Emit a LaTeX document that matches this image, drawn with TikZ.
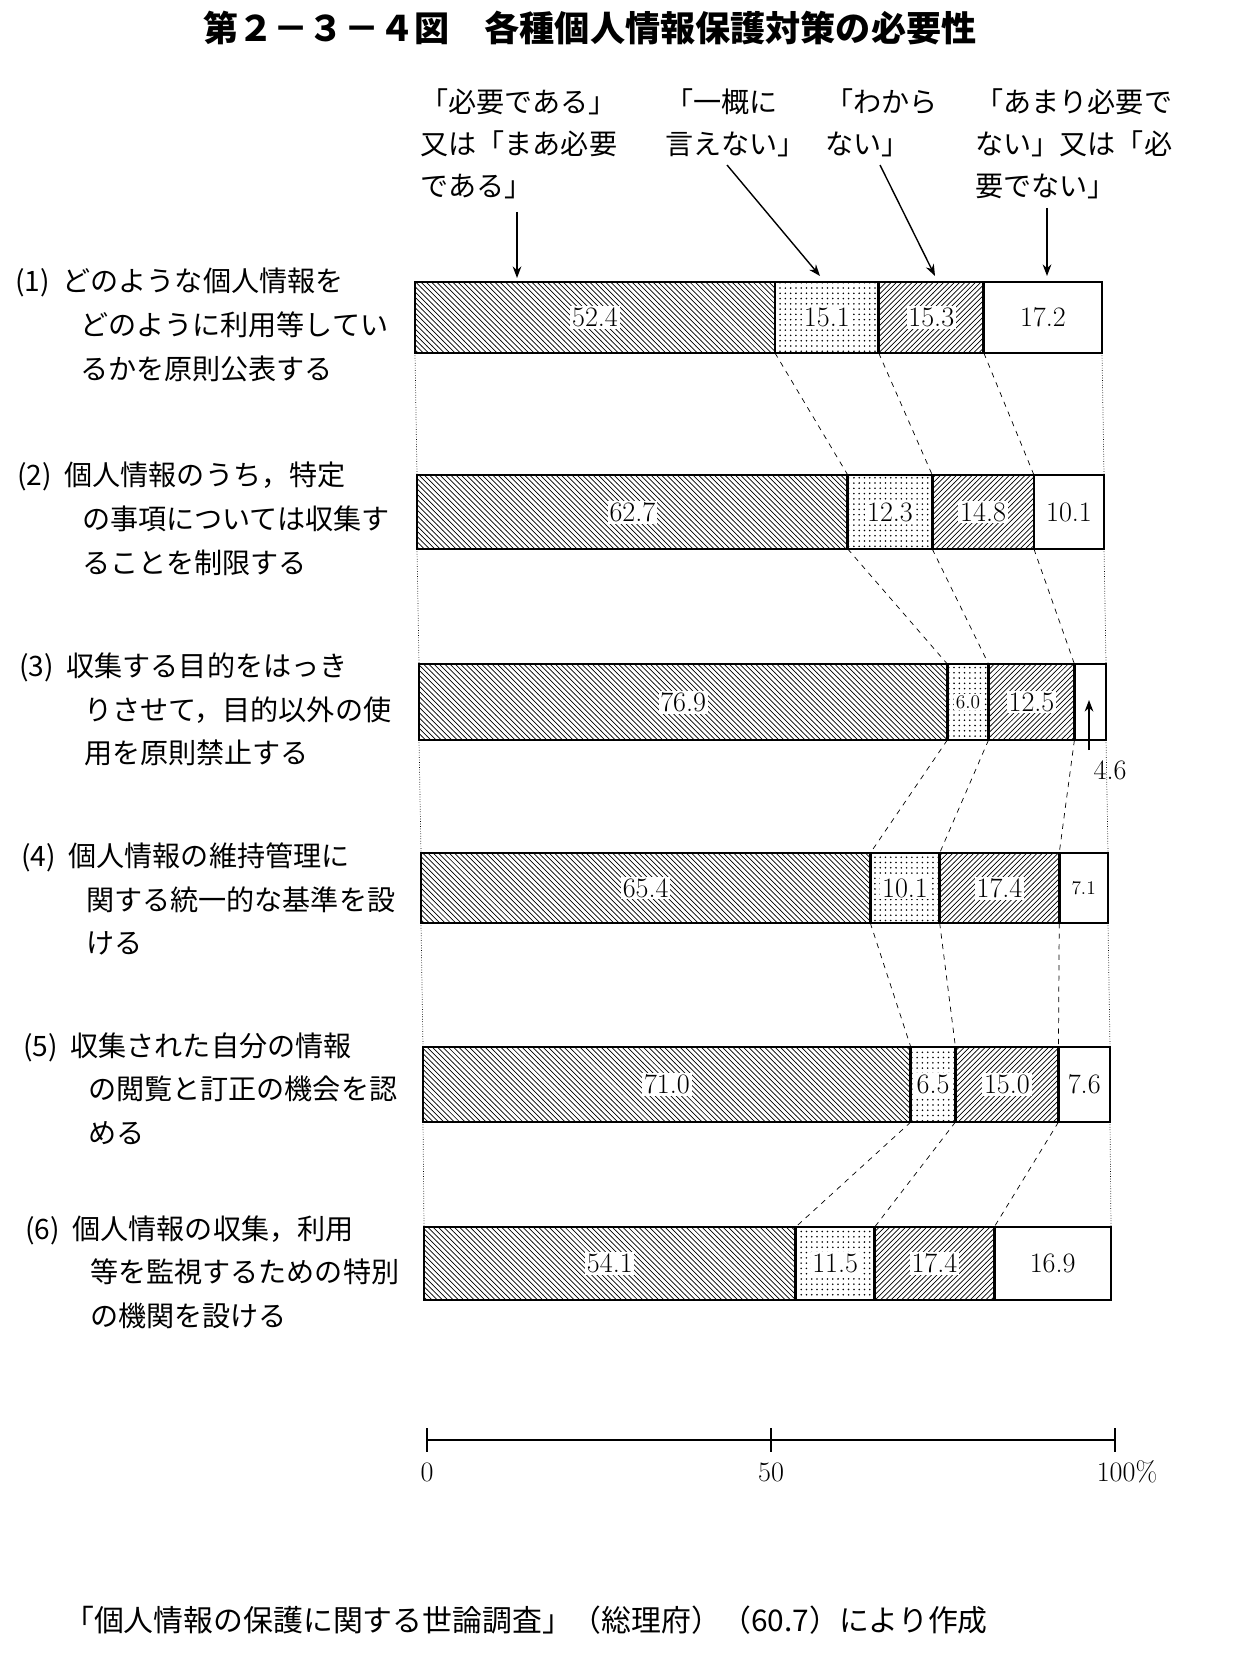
\documentclass[tikz,border=0pt]{standalone}
\usepackage{fontspec}
\newfontfamily\jp{Noto Sans CJK JP}
\usetikzlibrary{arrows.meta, patterns}

\begin{document}
\begin{tikzpicture}[
    x=0.02cm, y=-0.02cm,
    >=Stealth,
    item/.style={font=\jp\fontsize{16}{25}\selectfont, align=left, anchor=north west, inner sep=0pt},
    legend/.style={font=\jp\fontsize{16}{24}\selectfont, align=left, anchor=north west, inner sep=0pt},
    val/.style={font=\fontsize{16}{16}\selectfont, fill=white, inner sep=1pt},
    bar/.style={draw=black, line width=1.6pt},
    link/.style={dashed, thin},
    pointer/.style={->, thick}
]

\useasboundingbox (0,0) rectangle (1245,1669);

% Title
\node[font=\jp\bfseries\fontsize{20}{24}\selectfont] (title) at (590,28) {第２－３－４図　各種個人情報保護対策の必要性};

% Legend
\node[legend] (lgA) at (420,88) {「必要である」\\又は「まあ必要\\である」};
\node[legend] (lgB) at (665,88) {「一概に\\言えない」};
\node[legend] (lgC) at (825,88) {「わから\\ない」};
\node[legend] (lgD) at (975,88) {「あまり必要で\\ない」又は「必\\要でない」};

% Items
\node[item] (it1) at (15,268) {(1)\ \ どのような個人情報を\\\hspace{2.3em}どのように利用等してい\\\hspace{2.3em}るかを原則公表する};
\node[item] (it2) at (17,462) {(2)\ \ 個人情報のうち，特定\\\hspace{2.3em}の事項については収集す\\\hspace{2.3em}ることを制限する};
\node[item] (it3) at (19,652) {(3)\ \ 収集する目的をはっき\\\hspace{2.3em}りさせて，目的以外の使\\\hspace{2.3em}用を原則禁止する};
\node[item] (it4) at (21,842) {(4)\ \ 個人情報の維持管理に\\\hspace{2.3em}関する統一的な基準を設\\\hspace{2.3em}ける};
\node[item] (it5) at (23,1032) {(5)\ \ 収集された自分の情報\\\hspace{2.3em}の閲覧と訂正の機会を認\\\hspace{2.3em}める};
\node[item] (it6) at (25,1215) {(6)\ \ 個人情報の収集，利用\\\hspace{2.3em}等を監視するための特別\\\hspace{2.3em}の機関を設ける};

% Bars
\foreach \i/\xo/\yt/\hh/\a/\b/\c/\d in {
    1/415/282/71/52.4/15.1/15.3/17.2,
    2/417/475/74/62.7/12.3/14.8/10.1,
    3/419/664/76/76.9/6.0/12.5/4.6,
    4/421/853/70/65.4/10.1/17.4/7.1,
    5/423/1047/75/71.0/6.5/15.0/7.6,
    6/424/1227/73/54.1/11.5/17.4/16.9} {
    \pgfmathsetmacro\xa{\xo+6.87*\a}
    \pgfmathsetmacro\xb{\xo+6.87*(\a+\b)}
    \pgfmathsetmacro\xc{\xo+6.87*(\a+\b+\c)}
    \pgfmathsetmacro\xe{\xo+687}
    \pgfmathsetmacro\yb{\yt+\hh}
    \fill[pattern=north west lines] (\xo,\yt) rectangle (\xa,\yb);
    \fill[pattern=dots] (\xa,\yt) rectangle (\xb,\yb);
    \fill[pattern=north east lines] (\xb,\yt) rectangle (\xc,\yb);
    \draw[bar] (\xo,\yt) rectangle (\xe,\yb);
    \draw[bar] (\xa,\yt) -- (\xa,\yb) (\xb,\yt) -- (\xb,\yb) (\xc,\yt) -- (\xc,\yb);
    \foreach \k/\xx in {0/\xo,1/\xa,2/\xb,3/\xc,4/\xe} {
        \coordinate (t\i-\k) at (\xx,\yt);
        \coordinate (u\i-\k) at (\xx,\yb);
    }
    \pgfmathsetmacro\ym{\yt+\hh/2}
    \node[val] (va\i) at ({(\xo+\xa)/2},\ym) {\a};
    \node[val, font=\fontsize{\ifnum\i=3 11\else 16\fi}{16}\selectfont] (vb\i) at ({(\xa+\xb)/2},\ym) {\b};
    \node[val] (vc\i) at ({(\xb+\xc)/2},\ym) {\c};
    \ifnum\i=3\else
    \node[val, font=\fontsize{\ifnum\i=4 11\else 16\fi}{16}\selectfont] (vd\i) at ({(\xc+\xe)/2},\ym) {\d};
    \fi
}

% Connectors between bars
\foreach \i/\j in {1/2,2/3,3/4,4/5,5/6} {
    \foreach \k in {1,2,3}
        \draw[link] (u\i-\k) -- (t\j-\k);
    \draw[densely dotted, thin] (u\i-0) -- (t\j-0);
    \draw[densely dotted, thin] (u\i-4) -- (t\j-4);
}

% Small value of (3)
\node[font=\fontsize{16}{16}\selectfont] (v4six) at (1110,770) {4.6};
\coordinate (p4six) at (1089,700);
\draw[pointer] (1089,750) -- (p4six);

% Legend pointers
\draw[pointer] (517,212) -- (517,278);
\draw[pointer] (727,165) -- (820,276);
\draw[pointer] (880,165) -- (935,276);
\draw[pointer] (1047,208) -- (1047,276);

% Axis
\draw[thick] (427,1440) -- (1115,1440);
\foreach \v/\xx in {0/427,50/771,100/1115} {
    \draw[thick] (\xx,1428) -- (\xx,1452);
}
\node[font=\fontsize{16}{16}\selectfont] (ax0) at (427,1472) {0};
\node[font=\fontsize{16}{16}\selectfont] (ax50) at (771,1472) {50};
\node[font=\fontsize{16}{16}\selectfont] (ax100) at (1127,1472) {100\%};

% Source
\node[font=\jp\fontsize{17}{20}\selectfont, anchor=west] (src) at (58,1620) {「個人情報の保護に関する世論調査」（総理府）（60.7）により作成};

\end{tikzpicture}
\end{document}
